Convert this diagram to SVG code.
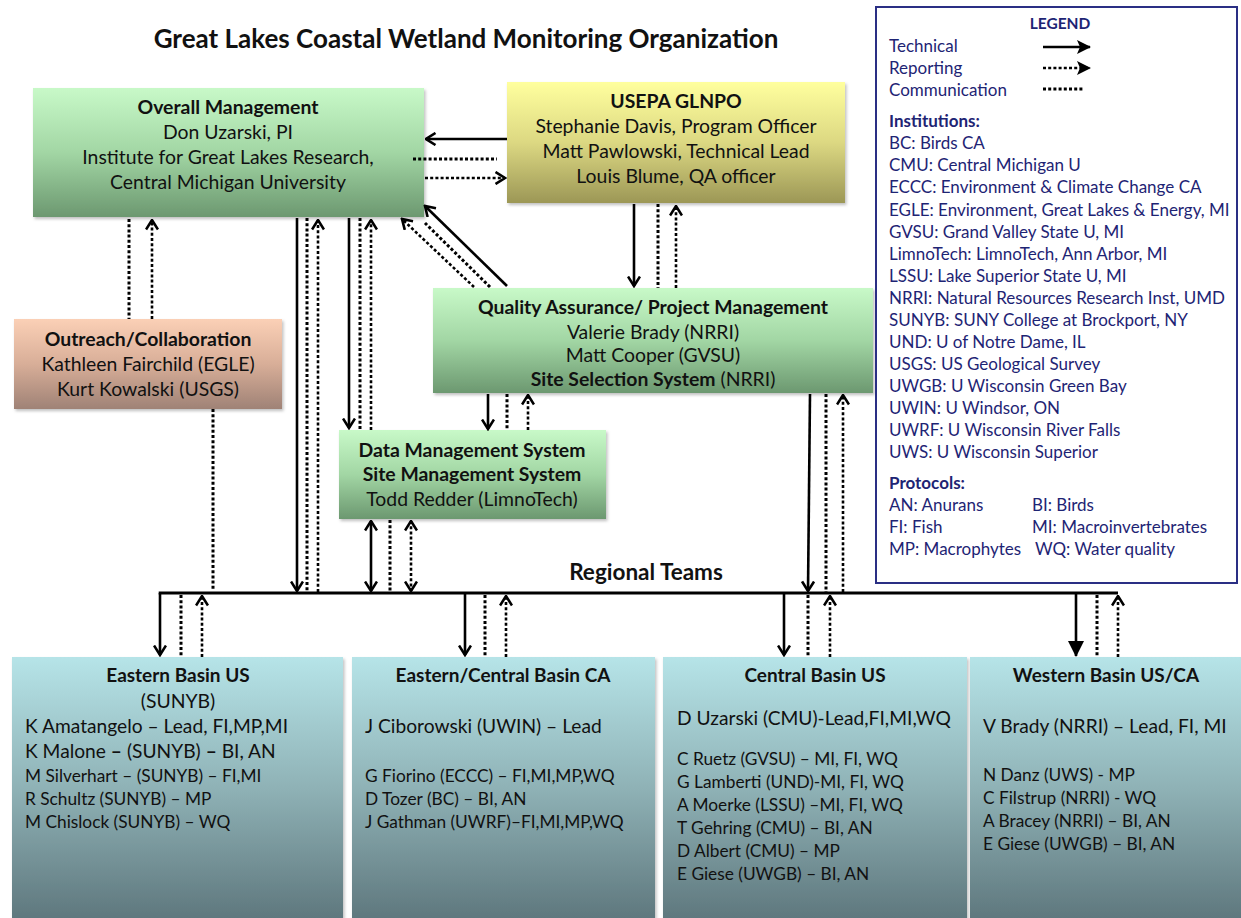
<svg xmlns="http://www.w3.org/2000/svg" width="1241" height="918" viewBox="0 0 1241 918">
<defs>
<linearGradient id="gGreen" x1="0" y1="0" x2="0" y2="1"><stop offset="0" stop-color="#c8f9c8"/><stop offset="0.5" stop-color="#a2d6a4"/><stop offset="1" stop-color="#6c9870"/></linearGradient>
<linearGradient id="gYellow" x1="0" y1="0" x2="0" y2="1"><stop offset="0" stop-color="#ffff9e"/><stop offset="0.5" stop-color="#dcd882"/><stop offset="1" stop-color="#9c9756"/></linearGradient>
<linearGradient id="gPeach" x1="0" y1="0" x2="0" y2="1"><stop offset="0" stop-color="#fbd0b6"/><stop offset="0.5" stop-color="#d8ae98"/><stop offset="1" stop-color="#9f8276"/></linearGradient>
<linearGradient id="gTeal" x1="0" y1="0" x2="0" y2="1"><stop offset="0" stop-color="#b6e4e8"/><stop offset="0.5" stop-color="#8fb2b6"/><stop offset="1" stop-color="#5f787e"/></linearGradient>
<filter id="sh" x="-5%" y="-5%" width="110%" height="115%"><feDropShadow dx="1.5" dy="2" stdDeviation="1.5" flood-color="#000" flood-opacity="0.25"/></filter>
<marker id="ah" viewBox="0 0 12 14" markerUnits="userSpaceOnUse" markerWidth="12" markerHeight="14" refX="10.5" refY="7" orient="auto-start-reverse"><path d="M1,1 L10.5,7 L1,13" fill="none" stroke="#000" stroke-width="2.6" stroke-dasharray="none"/></marker>
<marker id="tri" viewBox="0 0 14 14" markerUnits="userSpaceOnUse" markerWidth="14" markerHeight="14" refX="13" refY="7" orient="auto"><path d="M0,0 L14,7 L0,14 L3,7 z" fill="#000"/></marker>
<marker id="triBig" viewBox="0 0 16 16" markerUnits="userSpaceOnUse" markerWidth="16" markerHeight="18" refX="15" refY="8" orient="auto"><path d="M0,0 L16,8 L0,16 z" fill="#000"/></marker>
<style>
text{font-family:Lato,"Liberation Sans",sans-serif;fill:#111}
.t{font-size:19.4px;text-anchor:middle}
.b{font-weight:bold}
.title{font-size:26px;font-weight:bold;text-anchor:middle}
.lg{font-size:17px;fill:#1e2474}
.lgh{font-size:15.5px;font-weight:bold;fill:#1e2474;text-anchor:middle}
.box{stroke:none;filter:url(#sh)}
.s{stroke:#000;stroke-width:2.6;fill:none}
.d{stroke:#000;stroke-width:3;stroke-dasharray:3 2.2;fill:none}
.ds{stroke:#000;stroke-width:2.6;stroke-dasharray:3 2.2;fill:none}
.bt{font-size:19px;font-weight:bold;text-anchor:middle}
.rt{font-size:22.5px;font-weight:bold;text-anchor:middle}
.r18{font-size:19.2px}
.r16{font-size:17.3px}
.r15{font-size:17.3px}
</style>
</defs>
<rect width="1241" height="918" fill="#fff"/>
<text class="title" x="466" y="48">Great Lakes Coastal Wetland Monitoring Organization</text>

<g id="overall">
<rect class="box" x="33" y="88" width="391" height="129" fill="url(#gGreen)"/>
<text class="t b" x="228" y="114">Overall Management</text>
<text class="t" x="228" y="139">Don Uzarski, PI</text>
<text class="t" x="228" y="164">Institute for Great Lakes Research,</text>
<text class="t" x="228" y="189">Central Michigan University</text>
</g>

<g id="usepa">
<rect class="box" x="507" y="82" width="338" height="121" fill="url(#gYellow)"/>
<text class="t b" x="676" y="108">USEPA GLNPO</text>
<text class="t" x="676" y="133">Stephanie Davis, Program Officer</text>
<text class="t" x="676" y="158">Matt Pawlowski, Technical Lead</text>
<text class="t" x="676" y="183">Louis Blume, QA officer</text>
</g>

<g id="outreach">
<rect class="box" x="14" y="319" width="268" height="90" fill="url(#gPeach)"/>
<text class="t b" x="148" y="346">Outreach/Collaboration</text>
<text class="t" x="148" y="371">Kathleen Fairchild (EGLE)</text>
<text class="t" x="148" y="396">Kurt Kowalski (USGS)</text>
</g>

<g id="qa">
<rect class="box" x="433" y="288" width="440" height="105" fill="url(#gGreen)"/>
<text class="t b" x="653" y="314">Quality Assurance/ Project Management</text>
<text class="t" x="653" y="339">Valerie Brady (NRRI)</text>
<text class="t" x="653" y="362">Matt Cooper (GVSU)</text>
<text class="t" x="653" y="386"><tspan class="b">Site Selection System</tspan> (NRRI)</text>
</g>

<g id="data">
<rect class="box" x="339" y="430" width="267" height="89" fill="url(#gGreen)"/>
<text class="t b" x="472" y="457">Data Management System</text>
<text class="t b" x="472" y="481">Site Management System</text>
<text class="t" x="472" y="506">Todd Redder (LimnoTech)</text>
</g>

<g id="legend">
<rect x="876" y="7" width="361" height="576" fill="#fff" stroke="#2a2f84" stroke-width="2"/>
<text class="lgh" x="1060" y="29">LEGEND</text>
<text class="lg" x="889" y="52">Technical</text>
<text class="lg" x="889" y="74">Reporting</text>
<text class="lg" x="889" y="96">Communication</text>
<line class="s" x1="1043" y1="47" x2="1090" y2="47" marker-end="url(#tri)"/>
<line class="ds" x1="1043" y1="68" x2="1090" y2="68" marker-end="url(#tri)"/>
<line class="d" x1="1043" y1="89" x2="1083" y2="89"/>
<text class="lg b" x="889" y="127">Institutions:</text>
<text class="lg" x="889" y="149">BC: Birds CA</text>
<text class="lg" x="889" y="171">CMU: Central Michigan U</text>
<text class="lg" x="889" y="193">ECCC: Environment &amp; Climate Change CA</text>
<text class="lg" x="889" y="216">EGLE: Environment, Great Lakes &amp; Energy, MI</text>
<text class="lg" x="889" y="238">GVSU: Grand Valley State U, MI</text>
<text class="lg" x="889" y="260">LimnoTech: LimnoTech, Ann Arbor, MI</text>
<text class="lg" x="889" y="282">LSSU: Lake Superior State U, MI</text>
<text class="lg" x="889" y="304">NRRI: Natural Resources Research Inst, UMD</text>
<text class="lg" x="889" y="326">SUNYB: SUNY College at Brockport, NY</text>
<text class="lg" x="889" y="348">UND: U of Notre Dame, IL</text>
<text class="lg" x="889" y="370">USGS: US Geological Survey</text>
<text class="lg" x="889" y="392">UWGB: U Wisconsin Green Bay</text>
<text class="lg" x="889" y="414">UWIN: U Windsor, ON</text>
<text class="lg" x="889" y="436">UWRF: U Wisconsin River Falls</text>
<text class="lg" x="889" y="458">UWS: U Wisconsin Superior</text>
<text class="lg b" x="889" y="489">Protocols:</text>
<text class="lg" x="889" y="511">AN: Anurans</text>
<text class="lg" x="1032" y="511">BI: Birds</text>
<text class="lg" x="889" y="533">FI: Fish</text>
<text class="lg" x="1032" y="533">MI: Macroinvertebrates</text>
<text class="lg" x="889" y="555">MP: Macrophytes</text>
<text class="lg" x="1035" y="555">WQ: Water quality</text>
</g>

<text class="rt" x="646" y="580">Regional Teams</text>

<g id="box-eastern-us">
<rect class="box" x="12" y="657" width="331" height="261" fill="url(#gTeal)"/>
<text class="bt" x="178" y="682">Eastern Basin US</text>
<text class="t" x="178" y="708">(SUNYB)</text>
<text class="r18" x="25" y="733">K Amatangelo – Lead, FI,MP,MI</text>
<text class="r18" x="25" y="758">K Malone <tspan class="b">–</tspan> (SUNYB) <tspan class="b">–</tspan> BI, AN</text>
<text class="r15" x="25" y="782">M Silverhart – (SUNYB) – FI,MI</text>
<text class="r15" x="25" y="805">R Schultz (SUNYB) – MP</text>
<text class="r15" x="25" y="828">M Chislock (SUNYB) – WQ</text>
</g>

<g id="box-eastern-central-ca">
<rect class="box" x="352" y="657" width="303" height="261" fill="url(#gTeal)"/>
<text class="bt" x="503" y="682">Eastern/Central Basin CA</text>
<text class="r18" x="365" y="733">J Ciborowski (UWIN) – Lead</text>
<text class="r15" x="365" y="782">G Fiorino (ECCC) – FI,MI,MP,WQ</text>
<text class="r15" x="365" y="805">D Tozer (BC) – BI, AN</text>
<text class="r15" x="365" y="828">J Gathman (UWRF)–FI,MI,MP,WQ</text>
</g>

<g id="box-central-us">
<rect class="box" x="663" y="657" width="304" height="261" fill="url(#gTeal)"/>
<text class="bt" x="815" y="682">Central Basin US</text>
<text class="r18" x="677" y="725">D Uzarski (CMU)-Lead,FI,MI,WQ</text>
<text class="r16" x="677" y="765">C Ruetz (GVSU) – MI, FI, WQ</text>
<text class="r16" x="677" y="788">G Lamberti (UND)-MI, FI, WQ</text>
<text class="r16" x="677" y="811">A Moerke (LSSU) –MI, FI, WQ</text>
<text class="r16" x="677" y="834">T Gehring (CMU) – BI, AN</text>
<text class="r16" x="677" y="857">D Albert (CMU) – MP</text>
<text class="r16" x="677" y="880">E Giese (UWGB) – BI, AN</text>
</g>

<g id="box-western">
<rect class="box" x="970" y="657" width="271" height="261" fill="url(#gTeal)"/>
<text class="bt" x="1106" y="682">Western Basin US/CA</text>
<text class="r18" x="983" y="733">V Brady (NRRI) – Lead, FI, MI</text>
<text class="r16" x="983" y="781">N Danz (UWS) - MP</text>
<text class="r16" x="983" y="804">C Filstrup (NRRI) - WQ</text>
<text class="r16" x="983" y="827">A Bracey (NRRI) – BI, AN</text>
<text class="r16" x="983" y="850">E Giese (UWGB) – BI, AN</text>
</g>

<g id="connectors">
<line class="s" x1="507" y1="139" x2="426" y2="139" marker-end="url(#ah)"/>
<line class="d" x1="413" y1="159" x2="497" y2="159"/>
<line class="ds" x1="425" y1="178" x2="505" y2="178" marker-end="url(#ah)"/>
<line class="d" x1="129" y1="219" x2="129" y2="319"/>
<line class="ds" x1="152" y1="319" x2="152" y2="220" marker-end="url(#ah)"/>
<line class="d" x1="213" y1="409" x2="213" y2="591"/>
<line class="s" x1="297" y1="218" x2="297" y2="591" marker-end="url(#ah)"/>
<line class="d" x1="307" y1="218" x2="307" y2="592"/>
<line class="ds" x1="318" y1="592" x2="318" y2="220" marker-end="url(#ah)"/>
<line class="s" x1="349" y1="218" x2="349" y2="428" marker-end="url(#ah)"/>
<line class="d" x1="360" y1="218" x2="360" y2="430"/>
<line class="ds" x1="371" y1="430" x2="371" y2="220" marker-end="url(#ah)"/>
<line class="s" x1="507" y1="286" x2="425" y2="206" marker-end="url(#ah)"/>
<line class="d" x1="490" y1="287" x2="425" y2="223"/>
<line class="ds" x1="474" y1="287" x2="402" y2="219" marker-end="url(#ah)"/>
<line class="s" x1="634" y1="204" x2="634" y2="286" marker-end="url(#ah)"/>
<line class="d" x1="658" y1="204" x2="658" y2="288"/>
<line class="ds" x1="676" y1="288" x2="676" y2="206" marker-end="url(#ah)"/>
<line class="s" x1="488" y1="394" x2="488" y2="429" marker-end="url(#ah)"/>
<line class="d" x1="507" y1="394" x2="507" y2="430"/>
<line class="ds" x1="528" y1="430" x2="528" y2="395" marker-end="url(#ah)"/>
<line class="s" x1="810" y1="394" x2="808" y2="591" marker-end="url(#ah)"/>
<line class="d" x1="826" y1="394" x2="826" y2="592"/>
<line class="ds" x1="843" y1="592" x2="843" y2="395" marker-end="url(#ah)"/>
<line class="s" x1="371" y1="521" x2="371" y2="591" marker-start="url(#ah)" marker-end="url(#ah)"/>
<line class="d" x1="390" y1="520" x2="390" y2="592"/>
<line class="ds" x1="411" y1="521" x2="411" y2="591" marker-start="url(#ah)" marker-end="url(#ah)"/>
<line x1="158.7" y1="593" x2="1118" y2="593" stroke="#000" stroke-width="3"/>
<line class="s" x1="160" y1="593" x2="160" y2="655" marker-end="url(#ah)"/>
<line class="d" x1="181" y1="595" x2="181" y2="657"/>
<line class="ds" x1="202" y1="657" x2="202" y2="596" marker-end="url(#ah)"/>
<line class="s" x1="465" y1="593" x2="465" y2="655" marker-end="url(#ah)"/>
<line class="d" x1="485" y1="595" x2="485" y2="657"/>
<line class="ds" x1="506" y1="657" x2="506" y2="596" marker-end="url(#ah)"/>
<line class="s" x1="784" y1="593" x2="784" y2="655" marker-end="url(#ah)"/>
<line class="d" x1="808" y1="595" x2="808" y2="657"/>
<line class="ds" x1="830" y1="657" x2="830" y2="596" marker-end="url(#ah)"/>
<line class="s" x1="1076" y1="593" x2="1076" y2="656" stroke-width="3" marker-end="url(#triBig)"/>
<line class="d" x1="1097" y1="595" x2="1097" y2="657"/>
<line class="ds" x1="1118" y1="657" x2="1118" y2="596" marker-end="url(#ah)"/>
</g>
</svg>
